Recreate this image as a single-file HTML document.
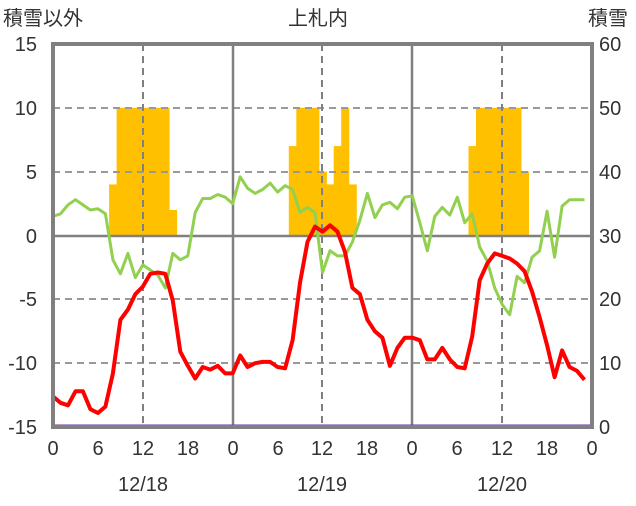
<!DOCTYPE html>
<html><head><meta charset="utf-8"><style>
body{margin:0;background:#fff;}
svg text{font-family:"Liberation Sans","Noto Sans CJK JP",sans-serif;font-size:20px;fill:#333;}
</style></head><body>
<svg id="s" width="636" height="501" xmlns="http://www.w3.org/2000/svg">
<rect width="636" height="501" fill="#fff"/>
<g id="bars" fill="#FFC000"></g>
<g stroke="#999" stroke-width="2" stroke-dasharray="7,5">
<line x1="53" y1="108" x2="592" y2="108"/>
<line x1="53" y1="172" x2="592" y2="172"/>
<line x1="53" y1="299" x2="592" y2="299"/>
<line x1="53" y1="363" x2="592" y2="363"/>
</g>
<g stroke="#808080" stroke-width="2" stroke-dasharray="7,5">
<line x1="143" y1="44" x2="143" y2="427"/>
<line x1="322" y1="44" x2="322" y2="427"/>
<line x1="502" y1="44" x2="502" y2="427"/>
</g>
<g stroke="#808080" stroke-width="2.5">
<line x1="233" y1="44" x2="233" y2="427"/>
<line x1="412" y1="44" x2="412" y2="427"/>
<line x1="53" y1="236" x2="592" y2="236"/>
</g>
<polyline id="g" fill="none" stroke="#92D050" stroke-width="3" stroke-linejoin="round"/>
<polyline id="r" fill="none" stroke="#FF0000" stroke-width="4" stroke-linejoin="round"/>
<line x1="53" y1="426" x2="592" y2="426" stroke="#7030A0" stroke-width="3"/>
<rect x="53" y="44" width="539" height="383" fill="none" stroke="#808080" stroke-width="4"/>
<g text-anchor="end">
<text x="37" y="51">15</text><text x="37" y="115">10</text><text x="37" y="179">5</text>
<text x="37" y="243">0</text><text x="37" y="306">-5</text><text x="37" y="370">-10</text><text x="37" y="434">-15</text>
</g>
<g text-anchor="start">
<text x="599" y="51">60</text><text x="599" y="115">50</text><text x="599" y="179">40</text>
<text x="599" y="243">30</text><text x="599" y="306">20</text><text x="599" y="370">10</text><text x="599" y="434">0</text>
</g>
<g text-anchor="middle">
<text x="53" y="455">0</text><text x="98" y="455">6</text><text x="143" y="455">12</text><text x="188" y="455">18</text>
<text x="233" y="455">0</text><text x="278" y="455">6</text><text x="322" y="455">12</text><text x="367" y="455">18</text>
<text x="412" y="455">0</text><text x="457" y="455">6</text><text x="502" y="455">12</text><text x="547" y="455">18</text>
<text x="592" y="455">0</text>
<text x="143" y="491">12/18</text><text x="322" y="491">12/19</text><text x="502" y="491">12/20</text>
<text x="318" y="25">上札内</text>
</g>
<text x="3" y="25">積雪以外</text>
<text x="588" y="25">積雪</text>
</svg>
<script>
var X=function(h){return 53+h*539/72;}, Y=function(v){return 235.5-v*12.77;};
var red=[-12.6,-13.1,-13.3,-12.2,-12.2,-13.6,-13.9,-13.4,-10.8,-6.6,-5.8,-4.6,-4.0,-3.0,-2.9,-3.0,-5.1,-9.1,-10.2,-11.2,-10.3,-10.5,-10.2,-10.8,
-10.8,-9.4,-10.3,-10.0,-9.9,-9.9,-10.3,-10.4,-8.2,-3.7,-0.5,0.7,0.3,0.8,0.3,-1.3,-4.1,-4.6,-6.6,-7.5,-8.0,-10.2,-8.8,-8.0,
-8.0,-8.2,-9.7,-9.7,-8.8,-9.7,-10.3,-10.4,-7.9,-3.5,-2.2,-1.4,-1.6,-1.8,-2.2,-2.8,-4.4,-6.4,-8.6,-11.1,-9.0,-10.3,-10.6,-11.3];
var grn=[1.5,1.7,2.4,2.8,2.4,2.0,2.1,1.7,-1.9,-3.0,-1.4,-3.3,-2.3,-2.7,-3.1,-4.1,-1.4,-1.9,-1.6,1.8,2.9,2.9,3.2,3.0,
2.5,4.6,3.7,3.3,3.6,4.1,3.4,3.9,3.6,1.8,2.2,1.8,-2.9,-1.2,-1.6,-1.6,-0.5,1.2,3.3,1.4,2.4,2.6,2.1,3.0,
3.1,1.0,-1.2,1.5,2.2,1.6,3.0,1.0,1.7,-0.9,-2.0,-4.1,-5.4,-6.2,-3.2,-3.7,-1.7,-1.2,1.9,-1.7,2.3,2.8,2.8,2.8];
function pts(a){return a.map(function(v,i){return X(i).toFixed(1)+","+Y(v).toFixed(1)}).join(" ");}
document.getElementById("r").setAttribute("points",pts(red));
document.getElementById("g").setAttribute("points",pts(grn));
var bars={8:4,9:10,10:10,11:10,12:10,13:10,14:10,15:10,16:2,32:7,33:10,34:10,35:10,36:5,37:4,38:7,39:10,40:4,
56:7,57:10,58:10,59:10,60:10,61:10,62:10,63:5};
var g=document.getElementById("bars"),s="";
for(var h in bars){var x0=X(+h-0.5),x1=X(+h+0.5),y=Y(bars[h]);
s+='<rect x="'+x0.toFixed(1)+'" y="'+y.toFixed(1)+'" width="'+(x1-x0+0.6).toFixed(1)+'" height="'+(235.5-y).toFixed(1)+'"/>';}
g.innerHTML=s;
</script>
</body></html>
